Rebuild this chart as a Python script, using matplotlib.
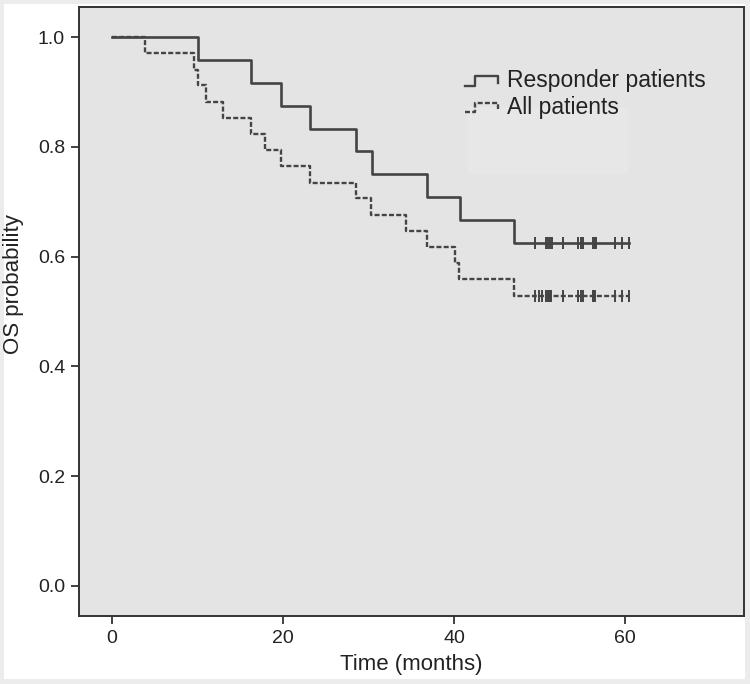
import matplotlib
matplotlib.use('Agg')
import matplotlib.pyplot as plt
from matplotlib.patches import Rectangle

plt.rcParams['font.family'] = ['Liberation Sans', 'DejaVu Sans']
plt.rcParams['lines.scale_dashes'] = False

# Kaplan-Meier steps
resp_times = [0, 10.0, 16.3, 19.8, 23.2, 28.5, 30.4, 36.8, 40.7, 47.0, 60.4]
resp_surv = [1.0, 0.958, 0.917, 0.875, 0.833, 0.792, 0.750, 0.708, 0.667, 0.625, 0.625]
resp_censor = [49.5, 50.8, 51.0, 51.2, 51.4, 52.7, 54.5, 54.8, 55.1, 56.3, 56.5, 56.6, 58.8, 59.6, 60.4]

all_times = [0, 3.8, 9.6, 10.1, 11.0, 13.0, 16.3, 17.9, 19.8, 23.2, 28.5, 30.3,
             34.4, 36.8, 40.1, 40.6, 47.0, 60.4]
all_surv = [1.0, 0.971, 0.941, 0.912, 0.882, 0.853, 0.824, 0.794, 0.765, 0.735, 0.706, 0.676,
            0.647, 0.618, 0.588, 0.559, 0.529, 0.529]
all_censor = [49.5, 49.9, 50.3, 50.8, 51.0, 51.1, 51.2, 51.3, 52.7, 54.5, 54.8, 55.1,
              56.3, 56.4, 56.5, 58.8, 59.6, 60.4]

labels = ['Responder patients', 'All patients']
xticks = [0, 20, 40, 60]
yticks = [0.0, 0.2, 0.4, 0.6, 0.8, 1.0]

W, H = 750, 684
fig = plt.figure(figsize=(W / 100, H / 100), dpi=100)
fig.patch.set_facecolor('#ececec')
fig.patches.append(Rectangle((4 / W, 5 / H), 741 / W, 675 / H, transform=fig.transFigure,
                             facecolor='white', edgecolor='none', zorder=-10))

ax = fig.add_axes([79 / W, 1 - 616 / H, 665 / W, 609 / H])
ax.set_facecolor('#e4e4e4')

col = '#444444'
lw = 1.7
ln, = ax.step(all_times, all_surv, where='post', color=col, lw=lw, zorder=2)
ln.set_dashes([3.6, 1.6])
ax.step(resp_times, resp_surv, where='post', color=col, lw=lw + 0.2, zorder=3)

def surv_at(t, times, surv):
    s = surv[0]
    for tt, ss in zip(times, surv):
        if tt <= t:
            s = ss
    return s

ax.plot(resp_censor, [surv_at(t, resp_times, resp_surv) for t in resp_censor],
        ls='none', marker='|', ms=9, mew=1.4, color=col)
ax.plot(all_censor, [surv_at(t, all_times, all_surv) for t in all_censor],
        ls='none', marker='|', ms=9, mew=1.4, color=col)

# faint legend box remnant
ax.add_patch(Rectangle((0.585, 0.725), 0.24, 0.11, transform=ax.transAxes,
                       facecolor='#e7e7e7', edgecolor='none', zorder=0))

# legend with step glyphs
tr = ax.transAxes
ax.plot([0.580, 0.596, 0.596, 0.630, 0.630], [0.870, 0.870, 0.886, 0.886, 0.876],
        color=col, lw=lw, transform=tr)
g, = ax.plot([0.580, 0.596, 0.596, 0.630, 0.630], [0.828, 0.828, 0.842, 0.842, 0.832],
             color=col, lw=lw, transform=tr)
g.set_dashes([3.6, 1.6])
ax.text(0.643, 0.879, labels[0], transform=tr, fontsize=16.5, va='center', color='#222222')
ax.text(0.643, 0.835, labels[1], transform=tr, fontsize=16.5, va='center', color='#222222')

ax.set_xlim(-3.86, 73.9)
ax.set_ylim(-0.055, 1.055)
ax.set_xticks(xticks)
ax.set_yticks(yticks)
ax.set_yticklabels([f'{v:.1f}' for v in yticks])
ax.tick_params(direction='out', length=6, width=1.3, color='#333333',
               labelsize=14, labelcolor='#222222', pad=4)
for s in ax.spines.values():
    s.set_color('#333333')
    s.set_linewidth(1.4)

ax.set_xlabel('Time (months)', fontsize=16, color='#222222', labelpad=5)
ax.set_ylabel('OS probability', fontsize=16, color='#222222')
ax.yaxis.set_label_coords(-0.082, 0.545)

fig.savefig('out.png', dpi=100, facecolor=fig.get_facecolor())
